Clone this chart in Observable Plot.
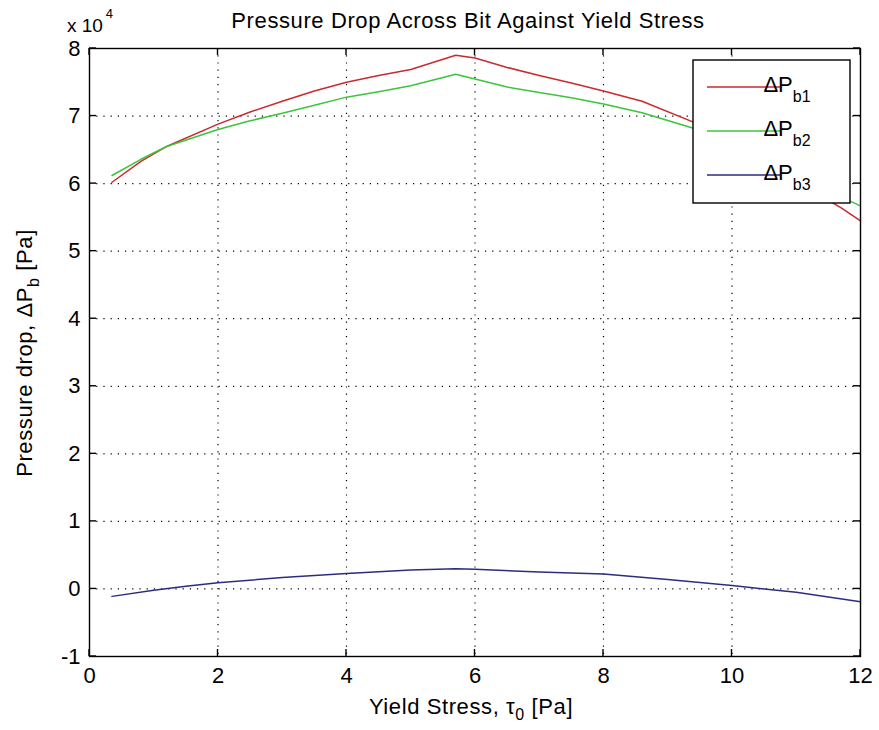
<!DOCTYPE html>
<html>
<head>
<meta charset="utf-8">
<script src="https://cdn.jsdelivr.net/npm/d3@7"></script>
<script src="https://cdn.jsdelivr.net/npm/@observablehq/plot@0.6"></script>
<style>
  html, body { margin: 0; padding: 0; background: #ffffff; }
  #chart { width: 879px; height: 730px; }
</style>
</head>
<body>
<div id="chart"></div>
<script>
// Yield stress, tau0 [Pa]
const tau = [0.35, 0.8, 1.2, 2, 2.5, 3, 3.5, 4, 4.5, 5, 5.7, 6, 6.5, 7, 7.5, 8, 8.6, 9.4, 10, 10.6, 11.2, 11.7, 12];
// Pressure drop values in units of 1e4 Pa
const dPb1 = [6.02, 6.33, 6.55, 6.88, 7.06, 7.22, 7.37, 7.50, 7.60, 7.69, 7.90, 7.86, 7.72, 7.60, 7.49, 7.37, 7.22, 6.91, 6.58, 6.25, 5.92, 5.64, 5.45];
const dPb2 = [6.12, 6.36, 6.55, 6.80, 6.93, 7.04, 7.16, 7.28, 7.36, 7.45, 7.62, 7.55, 7.43, 7.35, 7.27, 7.18, 7.05, 6.82, 6.56, 6.30, 6.03, 5.80, 5.67];
const tau3 = [0.35, 1, 1.5, 2, 3, 4, 5, 5.7, 6, 7, 8, 9, 10, 11, 12];
const dPb3 = [-0.11, -0.02, 0.04, 0.09, 0.17, 0.23, 0.28, 0.30, 0.29, 0.25, 0.22, 0.14, 0.05, -0.05, -0.19];

const seriesKeys = ["b1", "b2", "b3"];
const seriesColors = ["#c92a2e", "#3cc43c", "#2c2c82"];
const xTicks = [0, 2, 4, 6, 8, 10, 12];
const yTicks = [-1, 0, 1, 2, 3, 4, 5, 6, 7, 8];
const titleText = "Pressure Drop Across Bit Against Yield Stress";

const rows = [];
tau.forEach((t, i) => rows.push({x: t, y: dPb1[i], s: "b1"}));
tau.forEach((t, i) => rows.push({x: t, y: dPb2[i], s: "b2"}));
tau3.forEach((t, i) => rows.push({x: t, y: dPb3[i], s: "b3"}));

const FONT = "Liberation Sans, Arial, Helvetica, sans-serif";
const fmt = (d) => String(d);

const chart = Plot.plot({
  width: 879,
  height: 730,
  marginLeft: 89,
  marginRight: 19,
  marginTop: 48,
  marginBottom: 74,
  style: {fontFamily: FONT, fontSize: "22px", background: "#ffffff", color: "#000"},
  x: {domain: [0, 12], label: null},
  y: {domain: [-1, 8], label: null},
  color: {domain: seriesKeys, range: seriesColors},
  marks: [
    Plot.gridX(xTicks.slice(1, -1), {stroke: "#000", strokeOpacity: 1, strokeDasharray: "1.2,6", strokeWidth: 1.2}),
    Plot.gridY(yTicks.slice(1, -1), {stroke: "#000", strokeOpacity: 1, strokeDasharray: "1.2,6", strokeWidth: 1.2}),
    Plot.line(rows, {x: "x", y: "y", z: "s", stroke: "s", strokeWidth: 1.5}),
    Plot.frame({stroke: "#000", strokeWidth: 1.4}),
    Plot.axisX(xTicks, {tickSize: 0, tickPadding: 11, fontSize: 22, tickFormat: fmt}),
    Plot.axisY(yTicks, {tickSize: 0, tickPadding: 9, fontSize: 22, tickFormat: fmt})
  ]
});

document.getElementById("chart").appendChild(chart);

const svg = d3.select(chart);
const sx = chart.scale("x");
const sy = chart.scale("y");
const xL = sx.apply(0), xR = sx.apply(12), yB = sy.apply(-1), yT = sy.apply(8);
const TL = 7;

// Inward tick marks on all four sides (positions from Plot's scales)
const tg = svg.append("g").attr("stroke", "#000").attr("stroke-width", 1.4);
xTicks.forEach((v) => {
  const px = sx.apply(v);
  tg.append("line").attr("x1", px).attr("x2", px).attr("y1", yB).attr("y2", yB - TL);
  tg.append("line").attr("x1", px).attr("x2", px).attr("y1", yT).attr("y2", yT + TL);
});
yTicks.forEach((v) => {
  const py = sy.apply(v);
  tg.append("line").attr("x1", xL).attr("x2", xL + TL).attr("y1", py).attr("y2", py);
  tg.append("line").attr("x1", xR).attr("x2", xR - TL).attr("y1", py).attr("y2", py);
});

const addText = (sel, size) => sel.style("font-family", FONT).style("font-size", size + "px").attr("fill", "#000");

// Title
addText(svg.append("text"), 22)
  .attr("x", 468).attr("y", 28)
  .attr("text-anchor", "middle")
  .style("letter-spacing", "0.6px")
  .text(titleText);

// Exponent label
const ex = addText(svg.append("text"), 19).attr("x", 90).attr("y", 32);
ex.append("tspan").text("x 10");
addText(ex.append("tspan"), 13).attr("dy", -14).attr("dx", 3).text("4");

// X label
const xl = addText(svg.append("text"), 22)
  .attr("x", 471).attr("y", 714)
  .attr("text-anchor", "middle")
  .style("letter-spacing", "0.6px");
xl.append("tspan").text("Yield Stress, \u03C4");
addText(xl.append("tspan"), 16).attr("dy", 6).text("0");
xl.append("tspan").attr("dy", -6).text(" [Pa]");

// Y label
const yl = addText(svg.append("text"), 22)
  .attr("transform", "translate(32,353) rotate(-90)")
  .attr("text-anchor", "middle")
  .style("letter-spacing", "0.6px");
yl.append("tspan").text("Pressure drop, \u0394P");
addText(yl.append("tspan"), 16).attr("dy", 7).text("b");
yl.append("tspan").attr("dy", -7).text(" [Pa]");

// Legend
const lg = svg.append("g");
lg.append("rect").attr("x", 693).attr("y", 60).attr("width", 157).attr("height", 143)
  .attr("fill", "#fff").attr("stroke", "#000").attr("stroke-width", 1.4);
seriesKeys.forEach((k, i) => {
  const yy = 87 + i * 44;
  lg.append("line").attr("x1", 707).attr("x2", 780).attr("y1", yy).attr("y2", yy)
    .attr("stroke", seriesColors[i]).attr("stroke-width", 1.5);
  const t = addText(lg.append("text"), 22).attr("x", 787).attr("y", yy + 5);
  t.append("tspan").text("\u0394P");
  addText(t.append("tspan"), 16).attr("dy", 10).text(k);
});
</script>
</body>
</html>
